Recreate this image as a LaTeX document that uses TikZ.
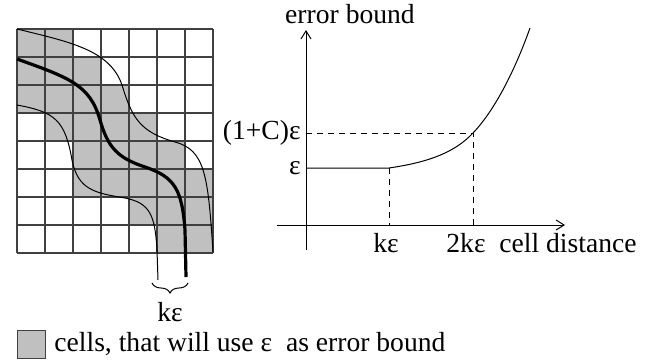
\documentclass[tikz,border=0pt]{standalone}
\usepackage{fontspec}
\setmainfont{Liberation Serif}
\usetikzlibrary{arrows.meta, decorations.pathreplacing}
\definecolor{cellgray}{RGB}{192,192,192}

\begin{document}
\begin{tikzpicture}[
    x=0.5pt, y=-0.5pt,
    cell/.style={fill=cellgray},
    gridline/.style={draw=black!75, line width=0.55pt},
    thinpath/.style={line width=0.5pt},
    mainpath/.style={line width=1.6pt},
    axis/.style={draw, ->, >={Straight Barb[length=4pt, width=5pt]}, line width=0.5pt},
    guide/.style={dash pattern=on 3pt off 2.5pt, line width=0.45pt},
    lbl/.style={font=\fontsize{13.8}{16}\selectfont, inner sep=1pt}
  ]
  \useasboundingbox (0,0) rectangle (654,360);

  % cells along the path
  \foreach \r/\a/\b in {0/0/1, 1/0/2, 2/0/3, 3/1/4, 4/2/5, 5/2/6, 6/4/6, 7/5/6}
    \fill[cell] (17+28*\a,29+28*\r) rectangle (45+28*\b,57+28*\r);
  \foreach \i in {0,...,7}
    \draw[gridline] (17+28*\i,29) -- (17+28*\i,253);
  \foreach \j in {0,...,8}
    \draw[gridline] (17,29+28*\j) -- (213,29+28*\j);

  % upper, middle and lower path
  \draw[thinpath] (17,29) .. controls (70,42) and (110,50) .. (122,85)
    .. controls (132,118) and (140,132) .. (175,142)
    .. controls (205,150) and (208,175) .. (213,252);
  \draw[mainpath] (17,59) .. controls (70,78) and (90,85) .. (100,120)
    .. controls (108,148) and (118,158) .. (145,167)
    .. controls (175,177) and (182,190) .. (185,230) -- (186,277);
  \draw[thinpath] (17,105) .. controls (55,112) and (65,120) .. (72,160)
    .. controls (78,190) and (95,193) .. (125,198)
    .. controls (150,203) and (155,215) .. (157,250) -- (158,280);

  \coordinate (bl) at (152,283);
  \coordinate (br) at (188,283);
  \draw[thinpath, decorate, decoration={brace, mirror, amplitude=5pt}] (bl) -- (br);
  \node[lbl] (kwidth) at (170,312) {kε};

  % legend
  \node[draw=black!75, fill=cellgray, minimum size=14pt, inner sep=0pt] (key) at (31,344) {};
  \node[lbl, anchor=west] (keytext) at (52,344) {cells, that will use ε\ \ as error bound};

  % error bound over cell distance
  \coordinate (ybot) at (306,250);
  \coordinate (ytop) at (306,30);
  \coordinate (xleft) at (277,225);
  \coordinate (xright) at (565,225);
  \draw[axis] (ybot) -- (ytop);
  \draw[axis] (xleft) -- (xright);
  \node[lbl] (ylabel) at (350,14) {error bound};
  \node[lbl, anchor=west] (xlabel) at (497,243) {cell distance};

  \coordinate (e1) at (306,168);
  \coordinate (k1) at (389,168);
  \coordinate (e2) at (306,133);
  \coordinate (k2) at (473,133);
  \draw[line width=0.5pt] (e1) -- (k1)
    .. controls (430,162) and (455,152) .. (k2)
    .. controls (495,110) and (515,70) .. (530,28);
  \draw[guide] (e2) -- (k2) -- (473,225);
  \draw[guide] (k1) -- (389,225);

  \node[lbl, anchor=east] (eps) at (303,168) {ε};
  \node[lbl, anchor=east] (epsc) at (303,133) {(1+C)ε};
  \node[lbl] (keps) at (386,243) {kε};
  \node[lbl] (kkeps) at (466,243) {2kε};
\end{tikzpicture}
\end{document}
